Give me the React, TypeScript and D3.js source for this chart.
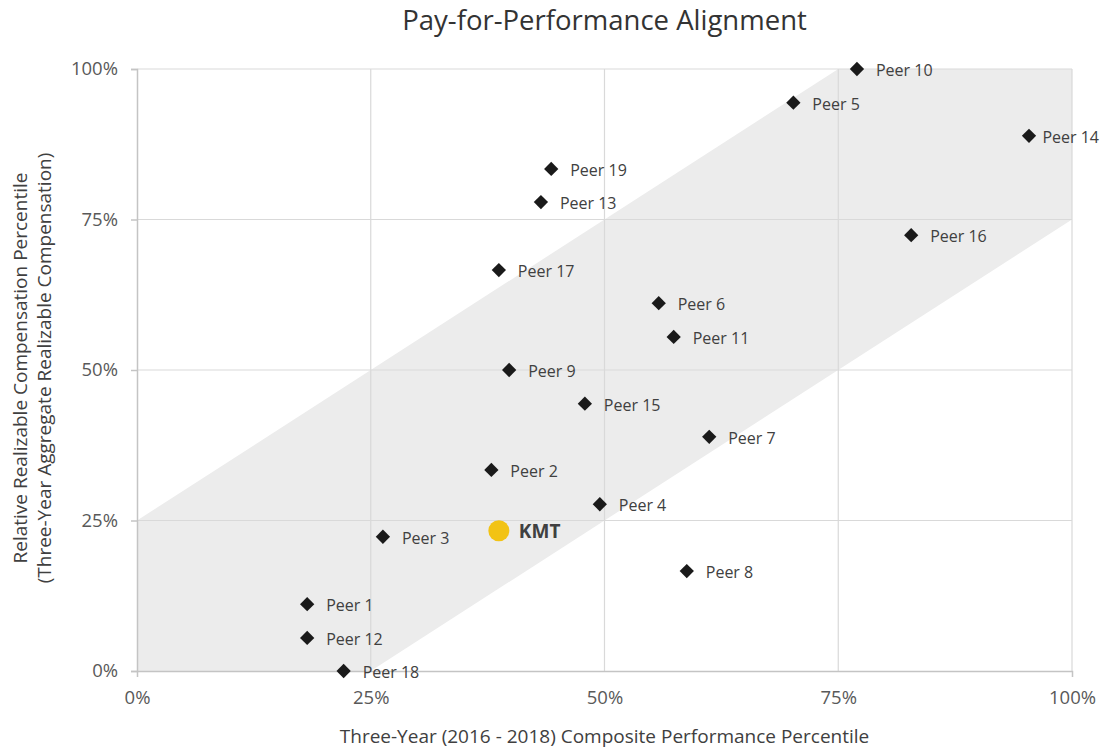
import React, { useEffect, useRef } from 'react';
import * as d3 from 'd3';

const peerNames = ['Peer 1', 'Peer 2', 'Peer 3', 'Peer 4', 'Peer 5', 'Peer 6', 'Peer 7', 'Peer 8', 'Peer 9', 'Peer 10',
  'Peer 11', 'Peer 12', 'Peer 13', 'Peer 14', 'Peer 15', 'Peer 16', 'Peer 17', 'Peer 18', 'Peer 19'];
const peerPerformance = [18.2, 37.9, 26.3, 49.5, 70.2, 55.8, 61.2, 58.8, 39.8, 77.0,
  57.4, 18.2, 43.2, 95.4, 47.9, 82.8, 38.7, 22.1, 44.3];
const peerPay = [11.1, 33.4, 22.3, 27.7, 94.4, 61.1, 38.9, 16.6, 50.0, 100,
  55.5, 5.5, 77.9, 88.9, 44.4, 72.4, 66.6, 0, 83.4];
const company = { name: 'KMT', performance: 38.7, pay: 23.3 };
const ticks = [0, 25, 50, 75, 100];
// alignment band: pay within ±25 points of performance
const band: [number, number][] = [[0, 0], [0, 25], [75, 100], [100, 100], [100, 75], [25, 0]];

const App: React.FC = () => {
  const svgRef = useRef<SVGSVGElement>(null);

  useEffect(() => {
    if (!svgRef.current) return;
    const svg = d3.select(svgRef.current);
    svg.selectAll('*').remove();

    const width = 1103;
    const height = 749;
    const font = '"Open Sans", sans-serif';
    const margin = { top: 69, right: 31, bottom: 78, left: 137 };

    const x = d3.scaleLinear().domain([0, 100]).range([margin.left, width - margin.right]);
    const y = d3.scaleLinear().domain([0, 100]).range([height - margin.bottom, margin.top]);

    svg.attr('width', width).attr('height', height).style('font-family', font);

    // band
    svg.append('path')
      .attr('d', (d3.line()(band.map(([a, b]) => [x(a), y(b)])) as string) + 'Z')
      .attr('fill', '#ececec');

    // grid
    const grid = svg.append('g').attr('stroke', '#d9d9d9').attr('stroke-width', 1.2);
    ticks.filter(t => t > 0).forEach(t => {
      grid.append('line').attr('x1', x(t)).attr('x2', x(t)).attr('y1', y(0)).attr('y2', y(100));
      grid.append('line').attr('x1', x(0)).attr('x2', x(100)).attr('y1', y(t)).attr('y2', y(t));
    });

    // axes
    const yAxis = svg.append('g')
      .attr('transform', `translate(${x(0)},0)`)
      .call(d3.axisLeft(y).tickValues(ticks).tickFormat(d => `${d}%`).tickSize(6).tickPadding(13));
    const xAxis = svg.append('g')
      .attr('transform', `translate(0,${y(0)})`)
      .call(d3.axisBottom(x).tickValues(ticks).tickFormat(d => `${d}%`).tickSize(6).tickPadding(14));
    [yAxis, xAxis].forEach(a => {
      a.select('.domain').attr('stroke', '#c4c4c4').attr('stroke-width', 1.5);
      a.selectAll('.tick line').attr('stroke', '#c4c4c4').attr('stroke-width', 1.5);
      a.selectAll('.tick text').attr('fill', '#595959').style('font-size', '18.5px').style('font-family', font);
    });
    xAxis.selectAll('.tick line').attr('y2', 0);

    // peers
    const diamond = d3.symbol().type(d3.symbolDiamond2).size(130);
    const pts = svg.append('g');
    peerNames.forEach((name, i) => {
      const cx = x(peerPerformance[i]);
      const cy = y(peerPay[i]);
      pts.append('path')
        .attr('d', diamond as any)
        .attr('transform', `translate(${cx},${cy})`)
        .attr('fill', '#1a1a1a');
      const label = pts.append('text')
        .attr('x', cx + 19)
        .attr('y', cy + 7)
        .attr('fill', '#404040')
        .style('font-size', '16px')
        .text(name);
      // pull labels back in when they would run off the right edge
      const w = (label.node() as SVGTextElement).getComputedTextLength();
      if (cx + 19 + w > width - 4) label.attr('x', Math.max(cx + 13, width - 4 - w));
    });

    // company
    svg.append('circle')
      .attr('cx', x(company.performance))
      .attr('cy', y(company.pay))
      .attr('r', 10.5)
      .attr('fill', '#f2c314');
    svg.append('text')
      .attr('x', x(company.performance) + 20)
      .attr('y', y(company.pay) + 7)
      .attr('fill', '#404040')
      .style('font-size', '19px')
      .style('font-weight', 'bold')
      .text(company.name);

    // title
    svg.append('text')
      .attr('x', (x(0) + x(100)) / 2)
      .attr('y', 30)
      .attr('text-anchor', 'middle')
      .attr('fill', '#333')
      .style('font-size', '27.5px')
      .text('Pay-for-Performance Alignment');

    // axis titles
    svg.append('text')
      .attr('x', (x(0) + x(100)) / 2)
      .attr('y', 743)
      .attr('text-anchor', 'middle')
      .attr('fill', '#404040')
      .style('font-size', '19px')
      .text('Three-Year (2016 - 2018) Composite Performance Percentile');

    const yTitle = svg.append('text')
      .attr('transform', `translate(27,${(y(0) + y(100)) / 2 - 2}) rotate(-90)`)
      .attr('text-anchor', 'middle')
      .attr('fill', '#404040')
      .style('font-size', '19px');
    yTitle.append('tspan').attr('x', 0).attr('dy', 0).text('Relative Realizable Compensation Percentile');
    yTitle.append('tspan').attr('x', 0).attr('dy', 24).text('(Three-Year Aggregate Realizable Compensation)');
  }, []);

  return <svg ref={svgRef} style={{ position: 'absolute', left: 0, top: 0 }}></svg>;
};

export default App;
